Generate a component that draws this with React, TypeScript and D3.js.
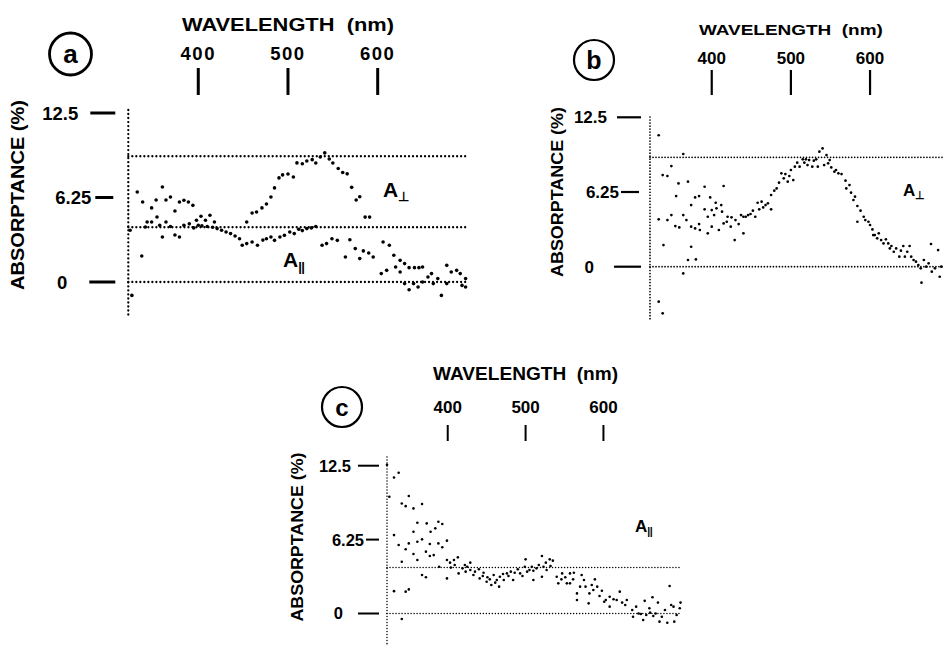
import React from 'react';
import * as d3 from 'd3';

// wavelength (nm), absorptance (%)
const aPerp: [number, number][] = [
  [332, 6.66], [338, 5.92], [348, 5.48], [353, 6.07], [360, 7.03], [364, 6.07], [369, 6.29], [374, 5.25],
  [379, 5.92], [384, 6.05], [389, 5.92], [394, 5.67], [398, 4.57], [403, 4.86], [408, 4.57], [413, 4.94],
  [418, 4.44], [421, 3.95], [426, 3.83], [454, 4.44], [460, 5.1], [465, 5.18], [471, 5.48], [476, 5.77],
  [481, 6.29], [485, 6.96], [490, 7.7], [494, 7.92], [500, 7.99], [506, 7.77], [510, 8.81], [516, 8.75],
  [521, 8.95], [527, 9.05], [531, 8.8], [536, 9.25], [541, 9.55], [546, 9.1], [550, 8.8], [556, 8.4],
  [561, 8.1], [566, 8.0], [571, 7.0], [576, 6.07], [580, 6.3], [586, 4.8], [591, 4.8],
];

const aPar: [number, number][] = [
  [324, 3.83], [326, -0.99], [337, 1.92], [341, 4.07], [343, 4.44], [348, 4.44], [354, 4.81], [357, 4.2],
  [360, 3.33], [364, 4.44], [369, 4.1], [374, 3.48], [379, 3.33], [384, 4.2], [390, 4.3], [395, 4.0],
  [400, 4.2], [404, 4.15], [410, 4.1], [416, 4.05], [431, 3.7], [436, 3.58], [441, 3.4], [446, 3.2],
  [449, 2.72], [454, 2.84], [460, 2.96], [466, 2.72], [472, 3.1], [476, 3.2], [481, 3.33], [485, 3.08],
  [491, 3.33], [496, 3.45], [502, 3.7], [507, 3.58], [512, 3.9], [516, 3.8], [521, 3.95], [526, 4.0],
  [531, 4.1], [538, 2.72], [543, 2.84], [549, 3.2], [555, 3.08], [564, 1.85], [569, 3.13], [575, 2.47],
  [580, 1.73], [584, 2.3], [590, 2.15], [595, 1.85], [604, 0.62], [606, 2.96], [610, 0.86], [613, 2.72],
  [618, 1.98], [620, 1.11], [625, 0.74], [625, 1.6], [630, 1.36], [630, -0.12], [635, 1.06], [635, -0.57],
  [640, -0.12], [641, 1.06], [645, -0.37], [646, 1.06], [650, 1.11], [650, 0], [656, 0.37], [660, 0.62],
  [662, -0.12], [667, 0.25], [671, -0.99], [677, 1.23], [677, -0.12], [682, 0.74], [688, 0.86], [692, 0.62],
  [694, -0.25], [698, 0.25], [698, -0.37],
];

const bPerp: [number, number][] = [
  [333, 11.0], [333, 3.96], [333, -2.93], [338, -3.9], [339, 1.81], [338, 7.67], [344, 7.59], [349, 8.42],
  [344, 3.9], [349, 4.32], [354, 3.4], [355, 5.91], [358, 6.97], [359, 3.29], [364, 9.43], [364, 4.32],
  [364, -0.56], [368, 3.9], [370, 7.11], [370, 0.56], [374, 1.67], [374, 5.16], [374, 3.35], [379, 5.8],
  [379, 3.2], [380, 0.61], [384, 5.91], [384, 3.57], [385, 3.07], [391, 6.69], [391, 4.8], [395, 4.18],
  [395, 2.79], [398, 5.8], [400, 4.74], [400, 3.35], [403, 4.32], [405, 5.35], [406, 4.88], [409, 3.07],
  [412, 5.16], [413, 4.6], [415, 6.75], [415, 3.62], [419, 3.76], [420, 4.18], [424, 3.35], [425, 4.13],
  [429, 2.23], [430, 3.9], [434, 3.57], [437, 4.32], [440, 2.79], [440, 4.18], [443, 4.18], [446, 4.32],
  [449, 4.41], [452, 4.69], [455, 4.18], [458, 5.35], [460, 4.8], [463, 5.44], [465, 4.96], [468, 5.16],
  [471, 5.3], [475, 4.8], [475, 6.0], [479, 6.36], [482, 6.55], [485, 7.03], [488, 7.81], [491, 7.39],
  [493, 7.75], [496, 7.11], [498, 7.59], [500, 8.09], [503, 7.25], [505, 8.37], [508, 8.7], [511, 8.37],
  [515, 8.98], [517, 8.7], [519, 8.98], [521, 8.5], [523, 8.92], [527, 8.37], [529, 8.87], [532, 8.98],
  [534, 8.37], [536, 9.62], [540, 9.9], [542, 8.5], [545, 9.34], [547, 8.65], [549, 8.92], [551, 8.31],
  [555, 7.95], [557, 8.09], [560, 7.81], [564, 7.75], [569, 7.2], [570, 6.55], [574, 6.83], [576, 6.19],
  [579, 5.58], [581, 5.86], [584, 5.08], [584, 3.76], [588, 4.69], [592, 4.18], [594, 3.9], [598, 3.76],
  [600, 3.49], [603, 3.12], [604, 2.65], [606, 2.65], [609, 2.37], [611, 2.79], [614, 2.23], [617, 1.95],
  [620, 2.29], [623, 1.95], [625, 1.53], [627, 1.73], [630, 1.25], [633, 1.53], [637, 0.84], [639, 1.34],
  [642, 1.73], [644, 0.84], [647, 1.25], [650, 1.73], [652, 0.84], [655, 0.56], [658, 0.42], [661, 0.14],
  [664, -0.14], [665, -1.34], [668, 0.56], [671, 0], [674, 0.28], [677, 1.9], [678, -0.42], [682, -0.14],
  [686, 1.39], [688, -0.84], [690, 0],
];

const cPar: [number, number][] = [
  [322, 12.57], [325, 9.88], [331, 11.5], [337, 11.9], [331, 6.63], [331, 1.89], [337, 5.79], [341, 4.38],
  [341, 9.3], [341, -0.47], [346, 9.08], [346, 5.43], [346, 1.85], [350, 9.94], [350, 2.04], [350, 5.93],
  [356, 8.89], [356, 5.03], [356, 6.92], [361, 7.68], [361, 4.52], [361, 6.07], [367, 9.26], [367, 6.27],
  [367, 3.26], [372, 5.23], [372, 3.06], [373, 7.62], [377, 4.86], [377, 5.88], [378, 6.92], [382, 4.94],
  [384, 7.2], [388, 7.76], [388, 5.93], [389, 3.96], [393, 7.57], [393, 5.6], [399, 6.16], [399, 2.97],
  [399, 4.52], [403, 4.3], [404, 3.88], [408, 4.52], [409, 4.1], [413, 4.75], [414, 3.39], [419, 3.82],
  [422, 4.1], [423, 3.54], [425, 3.96], [429, 4.3], [429, 3.68], [433, 3.26], [435, 3.54], [440, 3.74],
  [441, 2.97], [445, 3.17], [446, 3.45], [450, 2.69], [451, 3.06], [454, 2.89], [456, 2.41], [459, 3.26],
  [461, 2.61], [463, 2.83], [466, 2.27], [467, 3.11], [471, 3.34], [472, 2.83], [476, 3.39], [478, 3.17],
  [481, 3.54], [484, 2.83], [486, 3.45], [490, 3.74], [493, 3.39], [496, 3.17], [499, 3.96], [500, 4.58],
  [502, 3.54], [505, 3.68], [508, 3.96], [510, 2.83], [510, 3.62], [514, 3.82], [517, 4.1], [521, 4.86],
  [521, 3.11], [523, 3.96], [526, 4.3], [527, 3.68], [531, 4.58], [532, 4.02], [535, 4.47], [540, 3.11],
  [542, 2.55], [546, 2.89], [547, 3.39], [551, 3.06], [553, 2.55], [557, 3.39], [557, 2.55], [561, 2.89],
  [562, 3.45], [566, 1.7], [566, 1.14], [570, 2.27], [572, 3.26], [575, 2.83], [577, 2.27], [581, 0.86],
  [582, 1.7], [585, 2.41], [587, 1.99], [589, 2.89], [592, 2.27], [595, 1.48], [598, 1.93], [601, 1.0],
  [603, 1.14], [608, 0.58], [608, 1.42], [613, 1.2], [617, 1.14], [621, 1.85], [624, 0.92], [628, 0.72],
  [630, 1.14], [637, 0.3], [638, -0.27], [642, 0.58], [645, 0], [648, -0.04], [651, -0.55], [653, 1.07],
  [655, -0.13], [659, 0.44], [660, 0.07], [663, 1.37], [664, -0.21], [667, 0], [670, 0.92], [672, -0.69],
  [675, -0.27], [679, 0.3], [682, -0.78], [685, 2.33], [687, 0.72], [690, 0.58], [691, -0.69], [694, -0.13],
  [698, 0.44], [699, 0.92],
];

const wavelengthTicks = [400, 500, 600];
const absTicks = [12.5, 6.25, 0];
const absTickLabels = ['12.5', '6.25', '0'];

const FONT = '"Liberation Sans", Arial, Helvetica, sans-serif';

type Panel = {
  letter: string;
  letterFs: number;
  series: [number, number][][];
  refs: number[];
  xRange: [number, number];
  yRange: [number, number];
  axisTop: number;
  axisBottom: number;
  tickTop: number;
  tickBottom: number;
  tickW: number;
  tickLabelY: number;
  titleY: number;
  titleFs: number;
  titleLen: number;
  tickFs: number;
  tickLs: number;
  yTickFs: number;
  yLabelX: number;
  yLabelY: number;
  yLabelFs: number;
  yLabelLen: number;
  circle: [number, number, number];
  circleW: number;
  yTickGeom: [number, number, number][]; // label end, tick start, tick end (offset from axis)
  dotR: number;
  lineW: number;
  gap: number;
  labels: { text: string; sub: string; x: number; y: number; fs: number }[];
};

const panels: Panel[] = [
  {
    letter: 'a', letterFs: 26, series: [aPerp, aPar], refs: [9.3, 4.05, 0],
    xRange: [128.3, 467.4], yRange: [282, 113], axisTop: 110, axisBottom: 318,
    tickTop: 68, tickBottom: 95, tickW: 3, tickLabelY: 60, titleY: 31, titleFs: 18.5, titleLen: 212,
    tickFs: 18.5, tickLs: 1.5, yTickFs: 18.5,
    yLabelX: 19, yLabelY: 195, yLabelFs: 18.5, yLabelLen: 190, circle: [70.5, 54, 21], circleW: 2.8,
    yTickGeom: [[-50, -38, -13], [-37, -33, -15], [-61, -39, -13]],
    dotR: 1.8, lineW: 2.3, gap: 4,
    labels: [
      { text: 'A', sub: '⊥', x: 383, y: 197, fs: 21 },
      { text: 'A', sub: '||', x: 283, y: 267, fs: 21 },
    ],
  },
  {
    letter: 'b', letterFs: 25, series: [bPerp], refs: [9.15, 0],
    xRange: [650, 949.2], yRange: [266.7, 117.3], axisTop: 117, axisBottom: 320,
    tickTop: 70, tickBottom: 95, tickW: 2.2, tickLabelY: 64, titleY: 35, titleFs: 15.5, titleLen: 184,
    tickFs: 17, tickLs: 0, yTickFs: 17,
    yLabelX: 559, yLabelY: 192, yLabelFs: 16, yLabelLen: 170, circle: [594, 60, 20], circleW: 2.2,
    yTickGeom: [[-43, -33, -9], [-31, -29, -11], [-56, -36, -9]],
    dotR: 1.35, lineW: 1.7, gap: 3,
    labels: [{ text: 'A', sub: '⊥', x: 903, y: 196, fs: 17 }],
  },
  {
    letter: 'c', letterFs: 24, series: [cPar], refs: [3.9, 0],
    xRange: [387, 681.3], yRange: [613.5, 465.7], axisTop: 457, axisBottom: 646,
    tickTop: 425, tickBottom: 441, tickW: 2, tickLabelY: 413, titleY: 380, titleFs: 17.5, titleLen: 185,
    tickFs: 17, tickLs: 0, yTickFs: 16.5,
    yLabelX: 299, yLabelY: 537, yLabelFs: 16, yLabelLen: 169, circle: [342, 407, 20], circleW: 2.2,
    yTickGeom: [[-36, -29, -8], [-23, -21, -8], [-44, -29, -8]],
    dotR: 1.3, lineW: 1.5, gap: 3,
    labels: [{ text: 'A', sub: '||', x: 635, y: 532, fs: 17 }],
  },
];

const PanelView = ({ p }: { p: Panel }) => {
  const x = d3.scaleLinear().domain([322, 700]).range(p.xRange);
  const y = d3.scaleLinear().domain([0, 12.5]).range(p.yRange);
  const ax = p.xRange[0];
  const dash = `0.01 ${p.gap}`;
  const titleX = (x(400) + x(600)) / 2;

  return (
    <g fontFamily={FONT} fontWeight="bold" fill="#000">
      {/* panel letter */}
      <circle cx={p.circle[0]} cy={p.circle[1]} r={p.circle[2]} fill="none" stroke="#000" strokeWidth={p.circleW} />
      <text x={p.circle[0]} y={p.circle[1]} textAnchor="middle" dominantBaseline="central"
        fontSize={p.letterFs}>{p.letter}</text>

      {/* wavelength scale on top */}
      <text x={titleX - p.titleLen / 2} y={p.titleY} fontSize={p.titleFs} textLength={p.titleLen}
        lengthAdjust="spacingAndGlyphs" xmlSpace="preserve">WAVELENGTH  (nm)</text>
      {wavelengthTicks.map(t => (
        <g key={t}>
          <text x={x(t)} y={p.tickLabelY} textAnchor="middle" fontSize={p.tickFs} letterSpacing={p.tickLs}>{t}</text>
          <line x1={x(t)} x2={x(t)} y1={p.tickTop} y2={p.tickBottom} stroke="#000" strokeWidth={p.tickW} />
        </g>
      ))}

      {/* absorptance axis */}
      <text transform={`translate(${p.yLabelX},${p.yLabelY}) rotate(-90)`} x={-p.yLabelLen / 2}
        dominantBaseline="middle" fontSize={p.yLabelFs} textLength={p.yLabelLen}
        lengthAdjust="spacingAndGlyphs">ABSORPTANCE (%)</text>
      {absTicks.map((t, i) => {
        const [le, ts, te] = p.yTickGeom[i];
        return (
          <g key={t}>
            <text x={ax + le} y={y(t) + p.yTickFs * 0.36} textAnchor="end" fontSize={p.yTickFs}>{absTickLabels[i]}</text>
            <line x1={ax + ts} x2={ax + te} y1={y(t)} y2={y(t)} stroke="#000" strokeWidth={p.tickW} />
          </g>
        );
      })}
      <line x1={ax} x2={ax} y1={p.axisTop} y2={p.axisBottom} stroke="#000" strokeWidth={p.lineW}
        strokeDasharray={dash} strokeLinecap="round" />

      {/* reference lines */}
      {p.refs.map(r => (
        <line key={r} x1={ax} x2={p.xRange[1]} y1={y(r)} y2={y(r)} stroke="#000" strokeWidth={p.lineW}
          strokeDasharray={dash} strokeLinecap="round" />
      ))}

      {/* data */}
      {p.series.map((s, si) => s.map((d, i) => (
        <circle key={`${si}-${i}`} cx={x(d[0])} cy={y(d[1])} r={p.dotR} fill="#000" />
      )))}

      {p.labels.map((l, i) => (
        <text key={i} x={l.x} y={l.y} fontSize={l.fs}>
          {l.text}
          <tspan fontSize={l.fs * 0.62} dy={l.fs * 0.18} letterSpacing={l.sub === '||' ? -0.5 : 0}>{l.sub}</tspan>
        </text>
      ))}
    </g>
  );
};

export default function App() {
  return (
    <svg width={943} height={646} viewBox="0 0 943 646"
      style={{ position: 'absolute', left: 0, top: 0, background: '#fff' }}>
      <rect width={943} height={646} fill="#fff" />
      {panels.map(p => <PanelView key={p.letter} p={p} />)}
    </svg>
  );
}
